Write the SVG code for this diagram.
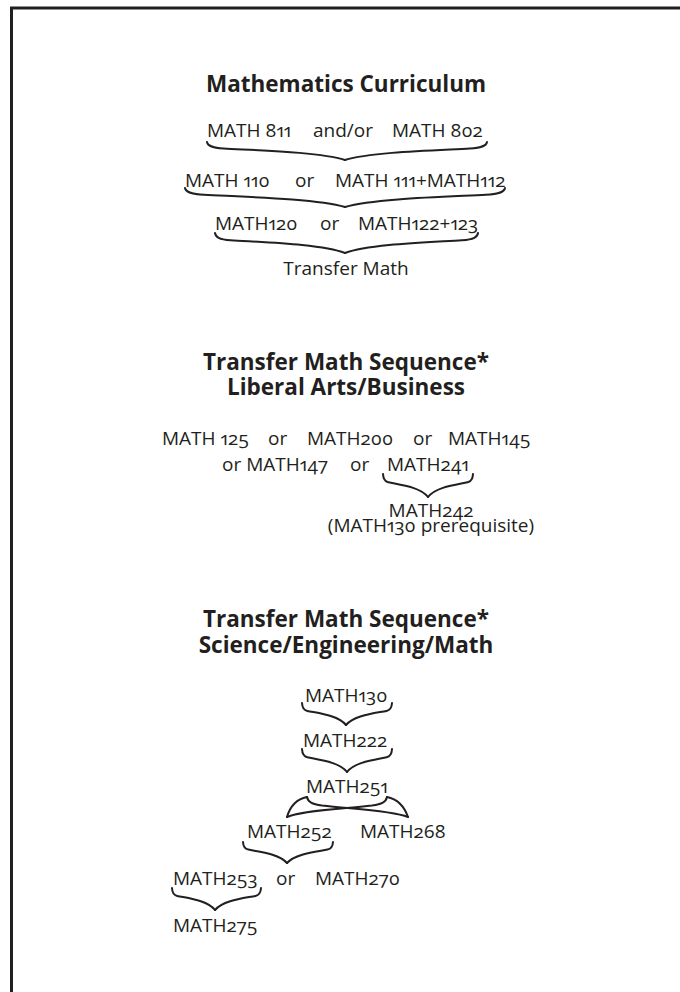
<svg xmlns="http://www.w3.org/2000/svg" xmlns:xlink="http://www.w3.org/1999/xlink" width="680" height="992" viewBox="0 0 680 992">
<style>
  .t { font-family: "Open Sans", "Noto Sans", "Liberation Sans", sans-serif; font-size: 19px; fill: #231f20; font-variant-numeric: oldstyle-nums proportional-nums; font-feature-settings: "onum" 1, "pnum" 1; }
  .h { font-family: "Open Sans", "Noto Sans", "Liberation Sans", sans-serif; font-size: 22.5px; font-weight: bold; fill: #231f20; text-anchor: middle; }
  .m { text-anchor: middle; }
  .b { fill: none; stroke: #231f20; stroke-width: 2; stroke-linecap: round; stroke-linejoin: round; vector-effect: non-scaling-stroke; }
  .x { fill: none; stroke: #231f20; stroke-width: 2; stroke-linecap: round; stroke-linejoin: round; }
</style>
<defs>
  <path id="hb" class="b" d="M0,0 C0.005,0.2 0.03,0.32 0.12,0.36 C0.38,0.47 0.82,0.56 1,1"/>
</defs>
<rect width="680" height="992" fill="#ffffff"/>
<path d="M11.5,992 V8 H680" fill="none" stroke="#231f20" stroke-width="3"/>

<g id="title1"><text class="h" x="346" y="92">Mathematics Curriculum</text></g>
<g id="row1">
  <text class="t" x="207" y="137">MATH 811</text>
  <text class="t" x="313" y="137">and/or</text>
  <text class="t" x="392" y="137">MATH 802</text>
</g>
<g id="row2">
  <text class="t" x="185" y="187">MATH 110</text>
  <text class="t" x="295" y="187">or</text>
  <text class="t" x="335" y="187">MATH 111+MATH112</text>
</g>
<g id="row3">
  <text class="t" x="215" y="230">MATH120</text>
  <text class="t" x="320" y="230">or</text>
  <text class="t" x="358" y="230">MATH122+123</text>
</g>
<g id="transfer"><text class="t m" x="346" y="275">Transfer Math</text></g>

<g id="title2">
  <text class="h" x="346" y="370">Transfer Math Sequence*</text>
  <text class="h" x="346" y="395">Liberal Arts/Business</text>
</g>
<g id="la1">
  <text class="t" x="162" y="445">MATH 125</text>
  <text class="t" x="268" y="445">or</text>
  <text class="t" x="307" y="445">MATH200</text>
  <text class="t" x="413" y="445">or</text>
  <text class="t" x="448" y="445">MATH145</text>
</g>
<g id="la2">
  <text class="t" x="222" y="471">or MATH147</text>
  <text class="t" x="350" y="471">or</text>
  <text class="t" x="387" y="471">MATH241</text>
</g>
<g id="math242">
  <text class="t m" x="431" y="517">MATH242</text>
  <text class="t m" x="431" y="532">(MATH130 prerequisite)</text>
</g>

<g id="title3">
  <text class="h" x="346" y="627">Transfer Math Sequence*</text>
  <text class="h" x="346" y="653">Science/Engineering/Math</text>
</g>
<g id="math130"><text class="t" x="305" y="702">MATH130</text></g>
<g id="math222"><text class="t" x="303" y="747">MATH222</text></g>
<g id="math251"><text class="t" x="306" y="793">MATH251</text></g>
<g id="math252"><text class="t" x="247" y="838">MATH252</text></g>
<g id="math268"><text class="t" x="360" y="838">MATH268</text></g>
<g id="math253-270">
  <text class="t" x="173" y="885">MATH253</text>
  <text class="t" x="276" y="885">or</text>
  <text class="t" x="315" y="885">MATH270</text>
</g>
<g id="math275"><text class="t" x="173" y="932">MATH275</text></g>

<g id="connectors">
  <use xlink:href="#hb" transform="translate(207,142) scale(138,18)"/>
  <use xlink:href="#hb" transform="translate(487,142) scale(-142,18)"/>
  <use xlink:href="#hb" transform="translate(185,188) scale(160,19)"/>
  <use xlink:href="#hb" transform="translate(505,188) scale(-160,19)"/>
  <use xlink:href="#hb" transform="translate(215,233) scale(130,20)"/>
  <use xlink:href="#hb" transform="translate(478,233) scale(-133,20)"/>
  <use xlink:href="#hb" transform="translate(383,474) scale(45,23)"/>
  <use xlink:href="#hb" transform="translate(473,474) scale(-45,23)"/>
  <use xlink:href="#hb" transform="translate(302,703) scale(44,22)"/>
  <use xlink:href="#hb" transform="translate(392,703) scale(-46,22)"/>
  <use xlink:href="#hb" transform="translate(302,749) scale(45,23)"/>
  <use xlink:href="#hb" transform="translate(392,749) scale(-45,23)"/>
  <path class="x" d="M307,797 Q292,800 287,817"/>
  <path class="x" d="M387,797 C386,802 382,804 372,805.5 C344,809 304,810 287,817"/>
  <path class="x" d="M387,797 Q402,800 408,817"/>
  <path class="x" d="M307,797 C308,802 312,804 322,805.5 C350,809 390,810 408,817"/>
  <use xlink:href="#hb" transform="translate(243,842) scale(44,21)"/>
  <use xlink:href="#hb" transform="translate(333,842) scale(-46,21)"/>
  <use xlink:href="#hb" transform="translate(172,888) scale(43,22)"/>
  <use xlink:href="#hb" transform="translate(261,888) scale(-46,22)"/>
</g>
</svg>
